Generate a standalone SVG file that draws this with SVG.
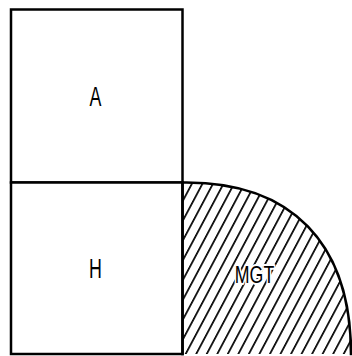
<svg xmlns="http://www.w3.org/2000/svg" width="352" height="356" viewBox="0 0 352 356">
  <style>
    .box { fill: #fff; stroke: #000; stroke-width: 2.5; }
    .edge { fill: none; stroke: #000; stroke-width: 2.6; stroke-linecap: square; }
    .lbl { font-family: "Liberation Sans", Arial, sans-serif; fill: #000; text-anchor: middle; }
    .halo { stroke: #fff; stroke-width: 4; paint-order: stroke; stroke-linejoin: round; }
  </style>
  <defs>
    <pattern id="hatch" patternUnits="userSpaceOnUse" width="9.3" height="20" patternTransform="rotate(28)">
      <line x1="4.6" y1="-2" x2="4.6" y2="22" stroke="#000" stroke-width="1.7"/>
    </pattern>
  </defs>
  <rect width="352" height="356" fill="#fff"/>
  <g id="A">
    <rect class="box" x="11" y="9.5" width="171.5" height="173"/>
    <text class="lbl" font-size="27" transform="translate(95.5,106) scale(0.66,1)">A</text>
  </g>
  <g id="H">
    <rect class="box" x="11" y="182.5" width="171.5" height="171.5"/>
    <text class="lbl" font-size="27" transform="translate(95.5,278) scale(0.66,1)">H</text>
  </g>
  <g id="MGT">
    <path d="M182.5,182.5 C292,181 351,244 351,354 L182.5,354 Z" fill="url(#hatch)" stroke="none"/>
    <path class="edge" d="M182.5,182.5 C292,181 351,244 351,354"/>
    <line class="edge" x1="182.5" y1="182.5" x2="182.5" y2="354"/>
    <text class="lbl halo" font-size="24" transform="translate(254.5,282.5) scale(0.74,1)">MGT</text>
  </g>
</svg>
